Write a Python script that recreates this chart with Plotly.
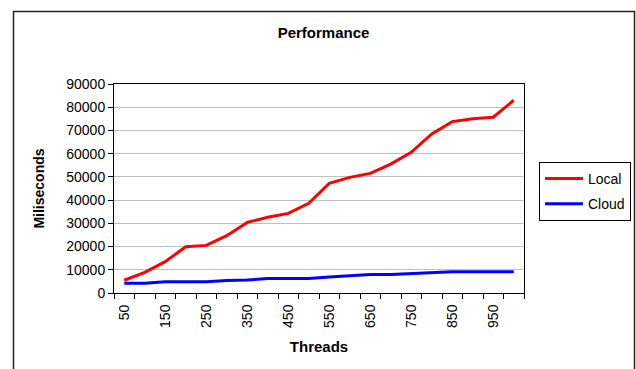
import plotly.graph_objects as go

# Thread counts tested and measured run times (ms)
threads = [50, 100, 150, 200, 250, 300, 350, 400, 450, 500,
           550, 600, 650, 700, 750, 800, 850, 900, 950, 1000]
local_ms = [5500, 8900, 13500, 19900, 20500, 24700, 30400, 32600, 34300, 38600,
            47200, 49800, 51500, 55500, 60600, 68500, 73800, 75000, 75700, 83000]
cloud_ms = [4200, 4200, 4800, 4800, 4800, 5400, 5600, 6200, 6200, 6200,
            6900, 7500, 8000, 8000, 8500, 8700, 9200, 9200, 9200, 9200]
x_labels = [50, 150, 250, 350, 450, 550, 650, 750, 850, 950]
y_ticks = list(range(0, 90001, 10000))

FONT = "Liberation Sans, Arial, sans-serif"

# plot-area pixel box inside the 636x369 page
W, H = 636, 369
L, R, T, B = 114, 524, 84, 293
pw, ph = R - L, B - T


def px_x(p):
    return (p - L) / pw


def px_y(p):
    return (B - p) / ph


fig = go.Figure()
fig.add_trace(go.Scatter(x=threads, y=local_ms, name="Local", mode="lines",
                         legendgroup="local",
                         line=dict(color="#ff0000", width=3)))
fig.add_trace(go.Scatter(x=threads, y=cloud_ms, name="Cloud", mode="lines",
                         legendgroup="cloud",
                         line=dict(color="#0000ff", width=3)))

fig.update_layout(
    width=W, height=H,
    margin=dict(l=L, r=W - R, t=T, b=H - B, pad=0, autoexpand=False),
    paper_bgcolor="white", plot_bgcolor="white",
    font=dict(family=FONT, size=14, color="black"),
    title=dict(text="<b>Performance</b>", font=dict(size=15),
               x=325 / W, xanchor="center", xref="paper",
               y=1 - 33 / H, yanchor="middle", yref="container"),
    showlegend=True,
    legend=dict(x=px_x(539), y=px_y(162), xanchor="left", yanchor="top",
                bordercolor="black", borderwidth=1, bgcolor="white",
                font=dict(size=14), itemwidth=38,
                traceorder="grouped", tracegroupgap=4),
)

fig.update_xaxes(
    range=[25, 1025], tickmode="array", tickvals=x_labels,
    ticktext=[str(v) for v in x_labels], tickangle=-90,
    ticks="outside", ticklen=5, tickcolor="rgba(0,0,0,0)",
    minor=dict(tickmode="linear", tick0=25, dtick=50, ticks="outside",
               ticklen=5, tickcolor="black", showgrid=False),
    showline=True, linecolor="black", linewidth=1, mirror=True,
    showgrid=False, zeroline=False,
    title=dict(text="<b>Threads</b>", font=dict(size=15), standoff=14),
)
fig.update_yaxes(
    range=[0, 90000], tickmode="array", tickvals=y_ticks,
    ticktext=[str(v) for v in y_ticks],
    ticks="outside", ticklen=5, tickcolor="black",
    showline=True, linecolor="black", linewidth=1, mirror=True,
    showgrid=True, gridcolor="#c0c0c0", gridwidth=1, zeroline=False,
    title=dict(text="<b>Miliseconds</b>", font=dict(size=14), standoff=18),
)

# outer chart frame
fig.add_shape(type="rect", xref="paper", yref="paper",
              x0=px_x(13.5), x1=px_x(634.5), y0=px_y(11.5), y1=px_y(420),
              line=dict(color="#222222", width=1.5), layer="below")

fig.write_html("out.html")
